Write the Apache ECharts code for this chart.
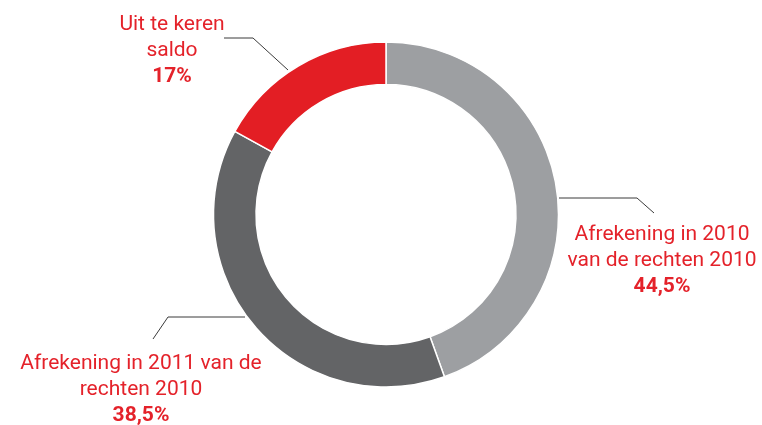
<!DOCTYPE html>
<html>
<head>
<meta charset="utf-8">
<style>
    html, body { margin: 0; padding: 0; overflow: hidden; background: #fff; }
</style>
</head>
<body>
<div id="pie" style="width:762px; height:425px;"></div>
<script src="https://cdn.jsdelivr.net/npm/echarts@6/dist/echarts.min.js"></script>
<script>
    var names = ['Afrekening in 2010\nvan de rechten 2010', 'Afrekening in 2011 van de\nrechten 2010', 'Uit te keren\nsaldo'];
    var values = [44.5, 38.5, 17];
    var valueLabels = ['44,5%', '38,5%', '17%'];
    var colors = ['#9d9fa2', '#636466', '#e31e24'];

    // label anchors + leader lines (layout only)
    var labelPos = [
        {x: 662, y: 222, line: [[559, 198], [637, 198], [654, 213]]},
        {x: 141, y: 351, line: [[245, 317], [168, 317], [153, 339]]},
        {x: 172, y: 12, line: [[288, 70], [253, 38], [224, 38]]}
    ];

    var chart = echarts.init(document.getElementById('pie'), null, {renderer: 'canvas'});

    var data = names.map(function (n, i) {
        return {name: n, value: values[i], itemStyle: {color: colors[i]}};
    });

    chart.setOption({
        animation: false,
        series: [{
            type: 'pie',
            center: [386, 214.5],
            radius: [130, 172.5],
            startAngle: 90,
            clockwise: true,
            data: data,
            itemStyle: {borderColor: '#fff', borderWidth: 1.5},
            label: {
                show: true,
                position: 'outside',
                overflow: 'none',
                width: 400,
                formatter: function (p) {
                    return '{a|' + p.name.split('\n').join('}\n{a|') + '}\n{b|' + valueLabels[p.dataIndex] + '}';
                },
                rich: {
                    a: {fontFamily: 'Roboto', fontSize: 21, lineHeight: 26, color: '#e4222a', align: 'center'},
                    b: {fontFamily: 'Roboto', fontSize: 21, fontWeight: 'bold', lineHeight: 26, color: '#e4222a', align: 'center'}
                }
            },
            labelLine: {show: true, lineStyle: {color: '#3a3a3a', width: 1}},
            labelLayout: function (p) {
                var l = labelPos[p.dataIndex];
                return {x: l.x, y: l.y, align: 'center', verticalAlign: 'top', labelLinePoints: l.line};
            },
            emphasis: {disabled: true}
        }]
    });
</script>
</body>
</html>
